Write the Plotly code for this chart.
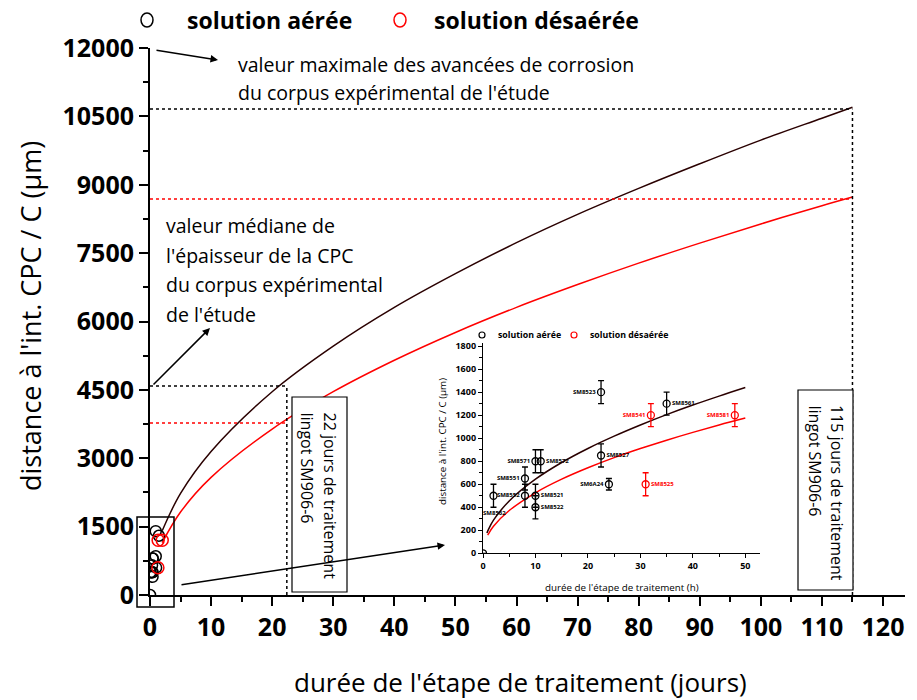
import plotly.graph_objects as go

# courbes du graphe principal (jours, µm)
main_days = [2, 5, 10, 20, 30, 40, 50, 60, 70, 80, 90, 100, 110, 115]
main_aer_um = [1410, 2230, 3150, 4460, 5460, 6310, 7050, 7730, 8350, 8920, 9460, 9980, 10460, 10700]
main_des_um = [1150, 1820, 2580, 3640, 4460, 5150, 5760, 6310, 6810, 7280, 7720, 8140, 8540, 8730]

# courbes de l'encart (heures, µm)
ins_aer_h = [0.75, 1, 2, 5, 10, 15, 20, 25, 30, 35, 40, 45, 50]
ins_aer_um = [176, 204, 288, 455, 644, 789, 911, 1018, 1115, 1205, 1288, 1366, 1440]
ins_des_h = [0.9, 1, 2, 5, 10, 15, 20, 25, 30, 35, 40, 45, 50]
ins_des_um = [158, 166, 235, 372, 526, 644, 743, 831, 910, 983, 1051, 1115, 1175]

# mesures, solution aérée
aer_names = ["", "", "SM8551", "SM8552", "SM8571", "SM8572", "SM8521", "SM8522",
             "SM8523", "SM8527", "SM6A24", "SM8561"]
aer_h = [0, 2, 8, 8, 10, 11, 10, 10, 22.5, 22.5, 24, 35]
aer_um = [0, 500, 650, 500, 800, 800, 500, 400, 1400, 850, 600, 1300]
aer_err = [0, 100, 100, 100, 100, 100, 100, 100, 100, 100, 50, 100]
aer_pos = ["middle left", "bottom left", "middle left", "middle left", "middle left", "middle right",
           "middle right", "middle right", "middle left", "middle right", "middle left", "middle right"]
# étiquette placée sous la barre d'erreur
low_label = "SM8562"
low_label_h = 2.1
low_label_um = 350

# mesures, solution désaérée
des_names = ["SM8525", "SM8541", "SM8581"]
des_h = [31, 32, 48]
des_um = [600, 1200, 1200]
des_err = [100, 100, 100]
des_pos = ["middle right", "middle left", "middle left"]

# valeurs de référence (jours, µm)
max_um = 10663
max_red_um = 8688
med_um = 4585
med_red_um = 3774
day_short = 22.4
day_long = 115

y_ticks = list(range(0, 12001, 1500))
x_ticks = list(range(0, 121, 10))

BLK = "#2a0000"
FONT = "Open Sans"

# pixel -> paper (marges l=150, r=12, t=48, b=105)
def px(x):
    return (x - 150) / 755

def py(y):
    return (595 - y) / 547

fig = go.Figure()

fig.add_trace(go.Scatter(x=main_days, y=main_aer_um, mode="lines", line_shape="spline",
                         line=dict(color=BLK, width=1.5), showlegend=False))
fig.add_trace(go.Scatter(x=main_days, y=main_des_um, mode="lines", line_shape="spline",
                         line=dict(color="red", width=1.5), showlegend=False))
fig.add_trace(go.Scatter(x=[h / 24 for h in aer_h], y=aer_um, mode="markers",
                         marker=dict(symbol="circle-open", size=11, color="black", line=dict(width=1.5)),
                         showlegend=False))
fig.add_trace(go.Scatter(x=[h / 24 for h in des_h], y=des_um, mode="markers",
                         marker=dict(symbol="circle-open", size=12, color="red", line=dict(width=1.5)),
                         showlegend=False))

# encart
fig.add_trace(go.Scatter(x=ins_aer_h, y=ins_aer_um, mode="lines", line_shape="spline",
                         line=dict(color=BLK, width=1.5), xaxis="x2", yaxis="y2", showlegend=False))
fig.add_trace(go.Scatter(x=ins_des_h, y=ins_des_um, mode="lines", line_shape="spline",
                         line=dict(color="red", width=1.5), xaxis="x2", yaxis="y2", showlegend=False))
fig.add_trace(go.Scatter(x=aer_h, y=aer_um, mode="markers+text", text=aer_names, textposition=aer_pos,
                         textfont=dict(family=FONT, size=6, color="black", weight="bold"),
                         marker=dict(symbol="circle-open", size=7, color="black", line=dict(width=1.3)),
                         error_y=dict(type="data", array=aer_err, color="black", thickness=1.3, width=3),
                         xaxis="x2", yaxis="y2", showlegend=False))
fig.add_trace(go.Scatter(x=des_h, y=des_um, mode="markers+text", text=des_names, textposition=des_pos,
                         textfont=dict(family=FONT, size=6, color="red", weight="bold"),
                         marker=dict(symbol="circle-open", size=7, color="red", line=dict(width=1.3)),
                         error_y=dict(type="data", array=des_err, color="red", thickness=1.3, width=3),
                         xaxis="x2", yaxis="y2", showlegend=False))

shapes = []
dot = dict(dash="dot", width=1.5)
shapes.append(dict(type="line", xref="x", yref="y", x0=0, x1=day_long, y0=max_um, y1=max_um,
                   line=dict(color="black", **dot)))
shapes.append(dict(type="line", xref="x", yref="y", x0=0, x1=day_long, y0=max_red_um, y1=max_red_um,
                   line=dict(color="red", **dot)))
shapes.append(dict(type="line", xref="x", yref="y", x0=0, x1=day_short, y0=med_um, y1=med_um,
                   line=dict(color="black", **dot)))
shapes.append(dict(type="line", xref="x", yref="y", x0=0, x1=day_short, y0=med_red_um, y1=med_red_um,
                   line=dict(color="red", **dot)))
shapes.append(dict(type="line", xref="x", yref="y", x0=day_short, x1=day_short, y0=0, y1=med_um,
                   line=dict(color="black", **dot)))
shapes.append(dict(type="line", xref="x", yref="y", x0=day_long, x1=day_long, y0=0, y1=max_um,
                   line=dict(color="black", **dot)))

# cadres
shapes.append(dict(type="rect", xref="paper", yref="paper", x0=px(137), x1=px(174), y0=py(607), y1=py(517),
                   line=dict(color="black", width=1.5), layer="above"))
shapes.append(dict(type="rect", xref="paper", yref="paper", x0=px(292), x1=px(347), y0=py(592), y1=py(397),
                   line=dict(color="black", width=1.2), fillcolor="white", layer="above"))
shapes.append(dict(type="rect", xref="paper", yref="paper", x0=px(798), x1=px(853), y0=py(590), y1=py(390),
                   line=dict(color="black", width=1.2), fillcolor="white", layer="above"))

# légende principale
for cx, col in [(147, "black"), (400, "red")]:
    shapes.append(dict(type="circle", xref="paper", yref="paper", x0=px(cx - 6), x1=px(cx + 6),
                       y0=py(27), y1=py(13), line=dict(color=col, width=1.5)))
# légende de l'encart
for cx, col in [(482, "black"), (574, "red")]:
    shapes.append(dict(type="circle", xref="paper", yref="paper", x0=px(cx - 3), x1=px(cx + 3),
                       y0=py(338), y1=py(332), line=dict(color=col, width=1.2)))

ann = []

def txt(x, y, s, size, color="black", bold=False, xanchor="left", angle=0, yanchor="middle"):
    ann.append(dict(x=px(x), y=py(y), xref="paper", yref="paper", text=s, showarrow=False,
                    xanchor=xanchor, yanchor=yanchor, textangle=angle,
                    font=dict(family=FONT, size=size, color=color, weight="bold" if bold else "normal")))

def arrow(hx, hy, tx, ty):
    ann.append(dict(x=px(hx), y=py(hy), xref="paper", yref="paper", text="", showarrow=True,
                    ax=tx - hx, ay=ty - hy, arrowhead=2, arrowsize=1, arrowwidth=1.5, arrowcolor="black"))

txt(185, 20, "solution aérée", 23, bold=True)
txt(432, 20, "solution désaérée", 23, bold=True)
txt(236, 65, "valeur maximale des avancées de corrosion", 19.5)
txt(236, 92, "du corpus expérimental de l'étude", 19.5)
txt(164, 225, "valeur médiane de", 19.5)
txt(164, 255, "l'épaisseur de la CPC", 19.5)
txt(164, 284, "du corpus expérimental", 19.5)
txt(164, 314, "de l'étude", 19.5)
txt(330, 410, "22 jours de traitement", 16, xanchor="center", angle=90, yanchor="top")
txt(307, 410, "lingot SM906-6", 16, xanchor="center", angle=90, yanchor="top")
txt(837, 403, "115 jours de traitement", 16, xanchor="center", angle=90, yanchor="top")
txt(815, 403, "lingot SM906-6", 16, xanchor="center", angle=90, yanchor="top")
txt(30, 316, "distance à l'int. CPC / C (µm)", 27, xanchor="center", angle=-90)
txt(520, 682, "durée de l'étape de traitement (jours)", 26, xanchor="center")
txt(496, 335, "solution aérée", 8.8, bold=True)
txt(588, 335, "solution désaérée", 8.8, bold=True)
txt(443, 442, "distance à l'int. CPC / C (µm)", 9.8, xanchor="center", angle=-90)
txt(622, 587, "durée de l'étape de traitement (h)", 9.8, xanchor="center")

ann.append(dict(x=low_label_h, y=low_label_um, xref="x2", yref="y2", text=low_label, showarrow=False,
                font=dict(family=FONT, size=6, color="black", weight="bold")))

arrow(218, 60, 155, 50)
arrow(210, 328, 152, 386)
arrow(445, 545, 180, 585)

tickfont = dict(family=FONT, size=25, color="black", weight="bold")
smallfont = dict(family=FONT, size=9, color="black", weight="bold")

fig.update_layout(
    width=917, height=700,
    margin=dict(l=150, r=12, t=48, b=105),
    paper_bgcolor="white", plot_bgcolor="white",
    showlegend=False,
    shapes=shapes, annotations=ann,
    xaxis=dict(range=[0, 123.6], tickvals=x_ticks, ticktext=[str(v) for v in x_ticks], showgrid=False,
               zeroline=False, automargin=False,
               showline=True, linecolor="black", linewidth=2, ticks="outside", ticklen=9, tickwidth=2,
               tickcolor="black", minor=dict(dtick=5, ticks="outside", ticklen=5, tickwidth=2, tickcolor="black"),
               tickfont=tickfont),
    yaxis=dict(range=[0, 12000], tickvals=y_ticks, ticktext=[str(v) for v in y_ticks], showgrid=False,
               zeroline=False, automargin=False,
               showline=True, linecolor="black", linewidth=2, ticks="outside", ticklen=9, tickwidth=2,
               tickcolor="black", minor=dict(dtick=750, ticks="outside", ticklen=5, tickwidth=2, tickcolor="black"),
               tickfont=tickfont),
    xaxis2=dict(domain=[px(483), px(760)], anchor="y2", range=[0, 52.8], tickvals=list(range(0, 51, 10)),
                showgrid=False, zeroline=False, showline=True, linecolor="black", linewidth=1.3,
                automargin=False, ticks="outside", ticklen=4, tickwidth=1.3, tickcolor="black",
                minor=dict(dtick=5, ticks="outside", ticklen=2.5, tickwidth=1.3, tickcolor="black"),
                tickfont=smallfont),
    yaxis2=dict(domain=[py(553.3), py(342.7)], anchor="x2", range=[0, 1830], tickvals=list(range(0, 1801, 200)),
                showgrid=False, zeroline=False, showline=True, linecolor="black", linewidth=1.3,
                automargin=False, ticks="outside", ticklen=4, tickwidth=1.3, tickcolor="black",
                minor=dict(dtick=100, ticks="outside", ticklen=2.5, tickwidth=1.3, tickcolor="black"),
                tickfont=smallfont),
)

fig.write_html("out.html", config={"displayModeBar": False},
               post_script="document.body.style.margin='0';")
